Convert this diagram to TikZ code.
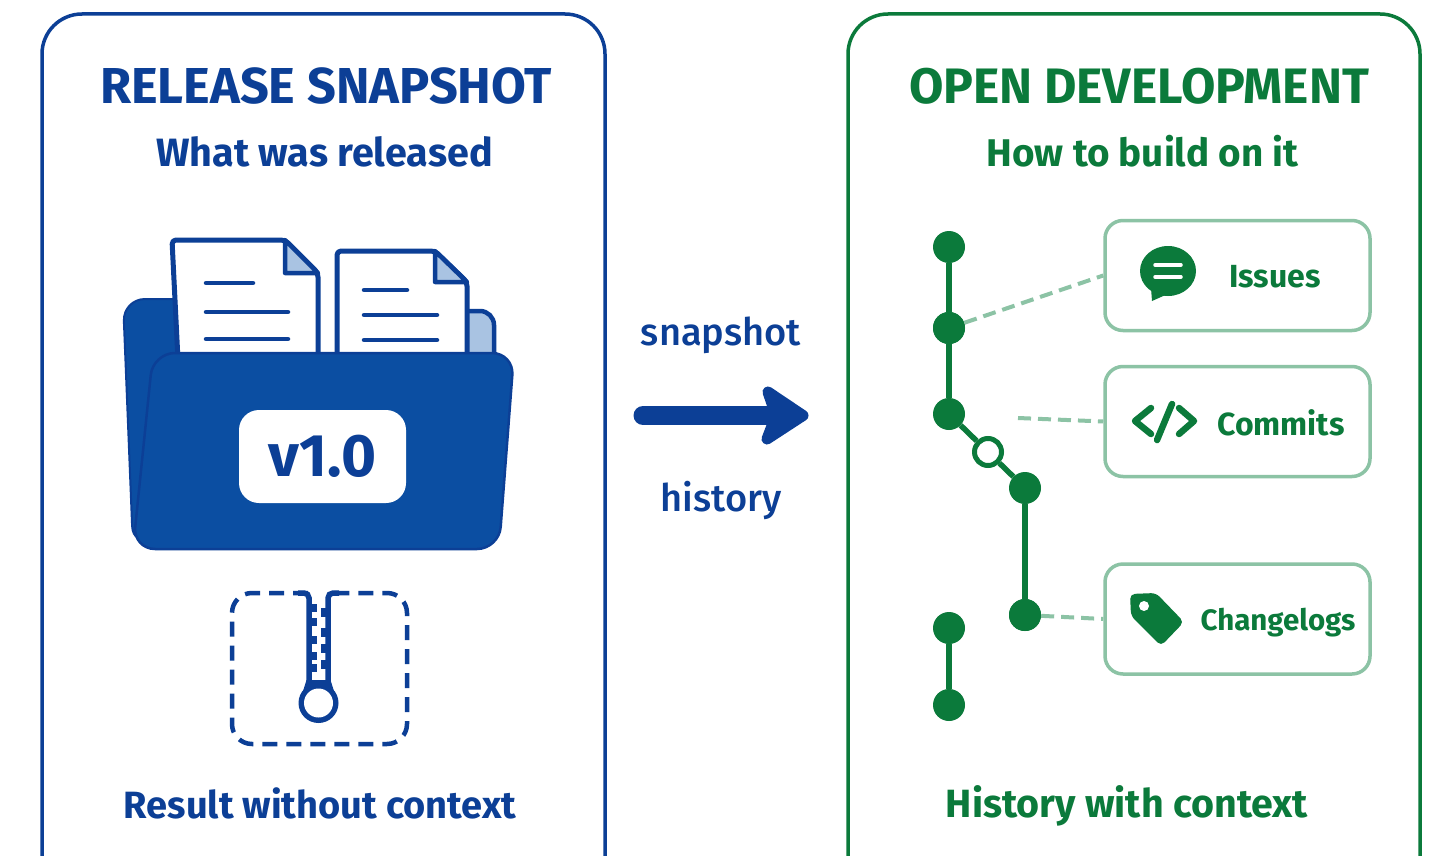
\documentclass[tikz,border=0pt]{standalone}
\usepackage{fontspec}
\setmainfont{Fira Sans}
\newfontfamily\medfont{Fira Sans Medium}
\definecolor{snapblue}{HTML}{0C3F96}
\definecolor{folderblue}{HTML}{0B4EA2}
\definecolor{paleblue}{HTML}{A9C3E2}
\definecolor{devgreen}{HTML}{0B7A3B}
\definecolor{palegreen}{HTML}{8CC3A5}
\tikzset{
  headtext/.style={inner sep=0pt,font=\fontsize{50.5}{50}\selectfont\bfseries},
  subtext/.style={inner sep=0pt,font=\fontsize{39.5}{39}\selectfont\bfseries},
  foottext/.style={inner sep=0pt,font=\fontsize{38}{38}\selectfont\bfseries},
  labeltext/.style={inner sep=0pt,font=\fontsize{32}{32}\selectfont\bfseries,text=devgreen},
  midtext/.style={inner sep=0pt,font=\fontsize{38}{38}\medfont,text=snapblue},
  commit/.style={circle,fill=devgreen,minimum size=32pt,inner sep=0pt},
  opencommit/.style={circle,draw=devgreen,fill=white,line width=5pt,minimum size=27pt,inner sep=0pt},
  branch/.style={draw=devgreen,line width=5.5pt},
  link/.style={draw=palegreen,line width=4pt,dash pattern=on 13pt off 7pt},
  card/.style={draw=palegreen,line width=3.5pt,rounded corners=18pt,fill=white,minimum width=265pt,minimum height=110pt,inner sep=0pt},
  sheet/.style={draw=snapblue,line width=5pt,fill=white,rounded corners=4pt,line join=round},
  fold/.style={draw=snapblue,line width=4.5pt,fill=paleblue,line join=round},
  textline/.style={draw=snapblue,line width=4.5pt,line cap=round}
}
\begin{document}
\begin{tikzpicture}[x=1pt,y=-1pt]
  \useasboundingbox (0,0) rectangle (1437,856);
  \clip (0,0) rectangle (1437,856);
  \fill[white] (0,0) rectangle (1437,856);

  \draw[snapblue,line width=3.5pt,rounded corners=40pt] (42,900) -- (42,14) -- (605,14) -- (605,900);
  \draw[devgreen,line width=3.5pt,rounded corners=40pt] (848,900) -- (848,14) -- (1420,14) -- (1420,900);

  \node[headtext,text=snapblue] (snaptitle) at (326,86) {RELEASE SNAPSHOT};
  \node[subtext,text=snapblue] (snapsub) at (324.5,152) {What was released};
  \node[foottext,text=snapblue] (snapfoot) at (320,803) {Result without context};
  \node[headtext,text=devgreen,font=\fontsize{49.8}{50}\selectfont\bfseries] (devtitle) at (1139,86) {OPEN DEVELOPMENT};
  \node[subtext,text=devgreen,font=\fontsize{38.6}{39}\selectfont\bfseries] (devsub) at (1142.5,151) {How to build on it};
  \node[foottext,text=devgreen,font=\fontsize{39.4}{39}\selectfont\bfseries] (devfoot) at (1127,806) {History with context};

  \draw[fill=paleblue,draw=snapblue,line width=4.5pt,rounded corners=14pt] (450,360) -- (450,311) -- (494,311) -- (494,360);
  \fill[folderblue,draw=snapblue,line width=2pt,rounded corners=22pt] (123,299) -- (200,299) -- (200,500) -- (133,548) -- cycle;

  \draw[sheet] (178,360) -- (172,240) -- (285,240) -- (318,273) -- (318,360);
  \draw[fold] (285,240) -- (285,273) -- (318,273) -- cycle;
  \draw[textline] (206,283) -- (253,283);
  \draw[textline] (206,312) -- (288,312);
  \draw[textline] (206,339) -- (288,339);

  \draw[sheet] (337,360) -- (337,251) -- (435,251) -- (467,282) -- (467,360);
  \draw[fold] (435,251) -- (435,282) -- (467,282) -- cycle;
  \draw[textline] (364,290) -- (407,290);
  \draw[textline] (364,315) -- (437,315);
  \draw[textline] (364,340) -- (437,340);

  \fill[folderblue,draw=snapblue,line width=2.5pt,rounded corners=22pt] (153,353) -- (514,353) -- (499,549) -- (133,549) -- cycle;
  \node[fill=white,rounded corners=20pt,minimum width=167pt,minimum height=93pt,inner sep=0pt,text=snapblue,font=\fontsize{60}{60}\selectfont\bfseries] (version) at (322.5,456.5) {v1.0};

  \draw[snapblue,line width=4.5pt,dash pattern=on 15pt off 9pt,rounded corners=20pt] (308,593) -- (232,593) -- (232,744) -- (407,744) -- (407,593) -- (330,593);
  \draw[snapblue,line width=5.5pt,rounded corners=5pt] (298,593) -- (309,593) -- (309,686);
  \draw[snapblue,line width=5.5pt,rounded corners=5pt] (339,593) -- (328,593) -- (328,686);
  \foreach \ty in {604,618,636,652,664} {
    \fill[snapblue] (309,\ty) rectangle (317,\ty+8);
  }
  \foreach \ty in {608,628,644,660} {
    \fill[snapblue] (321,\ty) rectangle (330,\ty+9);
  }
  \fill[snapblue] (306.5,680) -- (330.5,680) -- (338,704) -- (299,704) -- cycle;
  \fill[snapblue] (318.5,703) circle (20);
  \fill[white] (318.5,703) circle (14.5);

  \node[midtext] (snaplabel) at (721,335) {snapshot};
  \node[midtext] (historylabel) at (721,500) {history};
  \coordinate (arrowstart) at (643,415.5);
  \coordinate (arrowend) at (790,415.5);
  \draw[snapblue,line width=19pt,line cap=round] (arrowstart) -- (arrowend);
  \filldraw[snapblue,line width=11pt,line join=round] (768,392) -- (803,415.5) -- (767,439) -- (776,415.5) -- cycle;

  \node[card] (issues) at (1237.5,275.5) {};
  \node[card] (commits) at (1237.5,421.5) {};
  \node[card] (changelogs) at (1237.5,619) {};

  \node[commit] (c1) at (949,247) {};
  \node[commit] (c2) at (949,328) {};
  \node[commit] (c3) at (949,414) {};
  \node[opencommit] (c4) at (988,452) {};
  \node[commit] (c5) at (1025,488) {};
  \node[commit] (c6) at (1025,615) {};
  \node[commit] (c7) at (949,628) {};
  \node[commit] (c8) at (949,705) {};
  \coordinate (commitsend) at (1018,418);

  \draw[branch] (c1) -- (c2);
  \draw[branch] (c2) -- (c3);
  \draw[branch] (c3) -- (c4);
  \draw[branch] (c4) -- (c5);
  \draw[branch] (c5) -- (c6);
  \draw[branch] (c7) -- (c8);
  \draw[link] (c2) -- (issues.west);
  \draw[link] (commitsend) -- (commits.west);
  \draw[link] (c6) -- (changelogs.west);
  \node[commit] at (c2) {};
  \node[commit] at (c6) {};

  \fill[devgreen] (1168,271) ellipse (28 and 25);
  \fill[devgreen] (1151,288) -- (1152,301) -- (1170,293) -- cycle;
  \draw[white,line width=3.5pt,line cap=round] (1155,265) -- (1181,265);
  \draw[white,line width=3.5pt,line cap=round] (1155,277) -- (1181,277);
  \node[labeltext] (issuestext) at (1275,277) {Issues};

  \draw[devgreen,line width=6.5pt,line cap=round,line join=round] (1151,408) -- (1135,421) -- (1151,434);
  \draw[devgreen,line width=6.5pt,line cap=round] (1172,404) -- (1157,440);
  \draw[devgreen,line width=6.5pt,line cap=round,line join=round] (1179,408) -- (1194,421) -- (1179,434);
  \node[labeltext] (commitstext) at (1281,423) {Commits};

  \fill[devgreen,rounded corners=5pt] (1130,594) -- (1156,593) -- (1184,622) -- (1161,646) -- (1131,616) -- cycle;
  \fill[white] (1144,606) circle (5);
  \node[labeltext,font=\fontsize{29.5}{30}\selectfont\bfseries] (changelogstext) at (1278,623) {Changelogs};
\end{tikzpicture}
\end{document}
